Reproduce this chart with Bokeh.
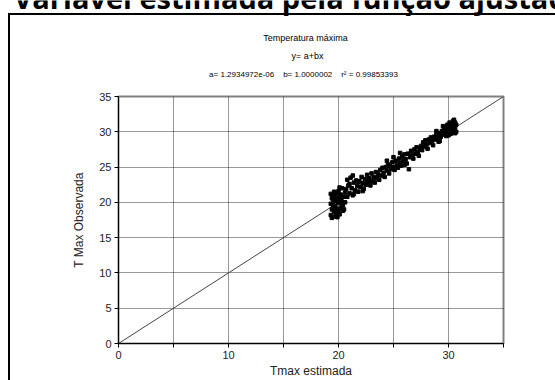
from bokeh.plotting import figure
from bokeh.layouts import column
from bokeh.models import FixedTicker, Range1d
from bokeh.core.properties import value
from bokeh.embed import file_html
from bokeh.resources import INLINE

# ---- data ----
NB = "\u00a0"
big_title = "Variável estimada pela função ajustada"
chart_title = "Temperatura máxima"
eq_text = "y= a+bx"
coef_text = ("a= 1.2934972e-06" + NB * 4 + "b= 1.0000002" + NB * 4 + "r² = 0.99853393")
x_label = "Tmax estimada"
y_label = "T Max Observada"

x_ticks = [0, 5, 10, 15, 20, 25, 30, 35]
y_ticks = [0, 5, 10, 15, 20, 25, 30, 35]
x_tick_labels = {5: "", 15: "", 25: "", 35: ""}

line_x = [0, 35]
line_y = [0, 35]

tmax_est = [
    19.3, 19.4, 19.3, 19.5, 19.4, 19.6, 19.5, 19.7, 19.6, 19.8, 19.7, 19.9, 19.8, 20.0,
    19.9, 20.1, 20.0, 20.2, 20.1, 20.3, 20.2, 20.4, 20.3, 20.5, 20.4, 20.6, 19.4, 19.6,
    19.8, 20.0, 19.5, 19.7, 20.2, 20.5, 19.3, 19.9, 20.1, 20.6, 19.6, 20.3,
    20.7, 20.8, 20.9, 21.0, 21.1, 21.2, 21.3, 21.4, 21.5, 21.6, 21.7, 21.8, 21.9, 22.0,
    22.1, 22.2, 22.3, 22.4, 22.5, 22.6, 22.7, 22.8, 22.9, 23.0, 23.1, 23.2, 23.3, 23.4,
    23.5, 21.0, 21.4, 21.8, 22.2, 22.6, 23.0, 20.8, 21.3,
    23.6, 23.7, 23.8, 23.9, 24.0, 24.1, 24.2, 24.3, 24.4, 24.5, 24.6, 24.7, 24.8, 24.9,
    25.0, 25.1, 25.2, 25.3, 25.4, 25.5, 25.6, 25.7, 25.8, 25.9, 26.0, 26.1, 26.2, 26.3,
    26.4, 26.5, 26.6, 26.7, 26.8, 26.9, 27.0, 27.1, 27.2, 27.3, 27.4, 25.0, 24.4, 25.6, 26.0,
    27.5, 27.6, 27.7, 27.8, 27.9, 28.0, 28.1, 28.2, 28.3, 28.4, 28.5, 28.6, 28.7, 28.8,
    28.9, 29.0, 29.1, 29.2, 29.3, 29.4, 29.5, 29.6, 29.7, 29.8, 29.9, 30.0, 30.1, 30.2,
    30.3, 30.4, 30.5, 30.6, 30.7, 30.5, 30.3, 30.1, 29.8, 29.5, 29.2, 28.9, 30.6, 30.4,
    30.0, 30.7, 30.2, 29.9, 30.6,
]
tmax_obs = [
    18.2, 19.0, 19.8, 20.4, 17.8, 18.7, 21.0, 19.5, 20.9, 18.4, 20.2, 21.3, 19.1, 19.9,
    17.9, 20.6, 21.6, 19.2, 18.3, 20.1, 21.1, 19.6, 22.0, 20.8, 18.8, 21.4, 20.6, 19.3,
    20.7, 18.7, 19.6, 18.0, 20.4, 19.0, 21.2, 20.2, 22.1, 20.0, 21.5, 19.4,
    21.9, 20.8, 22.4, 21.3, 23.5, 22.0, 21.0, 22.8, 21.7, 23.1, 22.3, 21.5, 23.0, 22.2,
    23.6, 22.7, 21.9, 23.3, 22.5, 23.9, 22.9, 23.4, 22.4, 24.1, 23.0, 23.6, 22.8, 24.3,
    23.4, 22.6, 21.2, 22.9, 21.6, 22.8, 23.0, 23.2, 23.8,
    24.0, 23.2, 24.6, 23.8, 24.9, 24.2, 23.6, 25.0, 24.5, 25.4, 24.1, 25.1, 24.7, 25.7,
    25.0, 24.6, 25.9, 25.3, 24.9, 26.2, 25.6, 25.2, 26.5, 25.9, 26.8, 26.1, 25.5, 26.9,
    24.7, 26.4, 27.3, 26.7, 26.2, 27.5, 26.9, 27.8, 27.1, 26.6, 27.6, 26.4, 25.9, 27.0, 25.3,
    28.0, 27.4, 28.5, 27.9, 28.8, 28.2, 27.6, 28.9, 28.4, 29.2, 28.7, 28.1, 29.3, 28.9,
    29.6, 29.1, 28.6, 29.8, 29.3, 30.1, 29.6, 30.3, 29.8, 30.5, 30.0, 30.7, 30.2, 29.7,
    30.9, 30.4, 31.1, 30.6, 30.0, 31.7, 29.9, 31.3, 29.4, 30.8, 28.7, 30.1, 29.8, 31.5,
    29.5, 31.0, 30.5, 31.0, 31.3,
]

FONT = "Liberation Sans"

# ---------- header strip (pixel coordinates, frame = whole strip) ----------
head = figure(width=555, height=86, output_backend="svg", toolbar_location=None,
              x_range=Range1d(0, 555), y_range=Range1d(86, 0),
              x_axis_location=None, y_axis_location=None,
              min_border_left=0, min_border_right=0, min_border_top=0, min_border_bottom=0)
head.grid.visible = False
head.outline_line_color = None
head.background_fill_color = None
head.border_fill_color = None

head.text(x=[13], y=[-3.5], text=[big_title], text_font=value("Open Sans"),
          text_font_size="29px", text_font_style="bold", text_color="black",
          text_align="left", text_baseline="alphabetic")
head.text(x=[305], y=[37], text=[chart_title], text_font=value(FONT),
          text_font_size="9px", text_color="black", text_align="center", text_baseline="middle")
head.text(x=[307], y=[55], text=[eq_text], text_font=value(FONT),
          text_font_size="9px", text_color="black", text_align="center", text_baseline="middle")
head.text(x=[303], y=[74], text=[coef_text], text_font=value(FONT),
          text_font_size="8px", text_color="black", text_align="center", text_baseline="middle")

# ---------- main chart ----------
p = figure(width=555, height=294, output_backend="svg", toolbar_location=None,
           x_range=Range1d(0, 35), y_range=Range1d(0, 35),
           min_border_left=118, min_border_right=52, min_border_top=10, min_border_bottom=36)

# do not align the frames of the two stacked figures
for fig in (head, p):
    try:
        fig.frame_align = False
    except Exception:
        pass

p.border_fill_color = None
p.background_fill_color = "white"
p.outline_line_color = "#808080"
p.outline_line_width = 2

for ax, ticks in ((p.xaxis[0], x_ticks), (p.yaxis[0], y_ticks)):
    ax.ticker = FixedTicker(ticks=ticks)
    ax.axis_line_color = "black"
    ax.major_tick_line_color = "black"
    ax.major_tick_out = 4
    ax.major_tick_in = 0
    ax.minor_tick_line_color = None
    ax.major_label_text_font = FONT
    ax.major_label_text_font_size = "11px"
    ax.major_label_text_color = "#222222"
    ax.major_label_standoff = 3
    ax.axis_label_text_font = FONT
    ax.axis_label_text_font_size = "12px"
    ax.axis_label_text_font_style = "normal"
    ax.axis_label_text_color = "#222222"
    ax.axis_label_standoff = 2

p.xaxis[0].major_label_overrides = x_tick_labels
p.xaxis[0].axis_label = x_label
p.yaxis[0].axis_label = y_label
p.yaxis[0].axis_label_standoff = 10

for g, ticks in ((p.xgrid[0], x_ticks), (p.ygrid[0], y_ticks)):
    g.ticker = FixedTicker(ticks=ticks)
    g.grid_line_color = "black"
    g.grid_line_dash = "1 1"
    g.grid_line_width = 1
    g.grid_line_alpha = 0.8

p.line(line_x, line_y, line_color="#444444", line_width=1)
p.scatter(tmax_est, tmax_obs, marker="square", size=3.5, color="black")

# outer chart frame drawn as background of the whole page block
page = column(head, p, spacing=0, styles={
    "background": "linear-gradient(#000,#000) 8px 13px / 2px 600px no-repeat, "
                  "linear-gradient(#000,#000) 8px 13px / 800px 2px no-repeat, #ffffff"
})

open("out.html", "w").write(file_html(page, INLINE))
